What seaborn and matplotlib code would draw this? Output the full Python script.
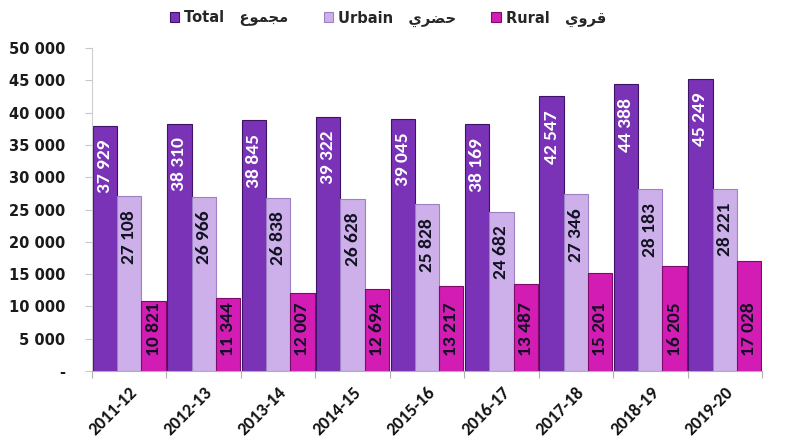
import matplotlib
matplotlib.use("Agg")
import matplotlib.pyplot as plt
import matplotlib.transforms as mtransforms
import seaborn as sns
import pandas as pd
from matplotlib.patches import Patch
from matplotlib.ticker import FuncFormatter, FixedLocator

years = ["2011-12", "2012-13", "2013-14", "2014-15", "2015-16",
         "2016-17", "2017-18", "2018-19", "2019-20"]
total = [37929, 38310, 38845, 39322, 39045, 38169, 42547, 44388, 45249]
urbain = [27108, 26966, 26838, 26628, 25828, 24682, 27346, 28183, 28221]
rural = [10821, 11344, 12007, 12694, 13217, 13487, 15201, 16205, 17028]
series = ["Total", "Urbain", "Rural"]
# Arabic labels (presentation forms, visual order for correct display)
ar_total = "\ufec9\ufeee\ufee4\ufea0\ufee3"   # مجموع
ar_urbain = "\ufef1\ufeae\ufec0\ufea3"        # حضري
ar_rural = "\ufef1\ufeed\ufeae\ufed7"         # قروي

colors = {"Total": "#7a32b6", "Urbain": "#cdb0ea", "Rural": "#d21cb4"}
edges = {"Total": "#3c1466", "Urbain": "#9c82c4", "Rural": "#7e0a6a"}
label_colors = {"Total": "white", "Urbain": "#111122", "Rural": "#111122"}

df = pd.DataFrame({
    "year": years * 3,
    "series": ["Total"] * 9 + ["Urbain"] * 9 + ["Rural"] * 9,
    "value": total + urbain + rural,
})

sns.set_style("white")
plt.rcParams["font.family"] = ["DejaVu Sans"]

fig = plt.figure(figsize=(7.87, 4.41), dpi=100)
ax = fig.add_axes([92 / 787, 1 - 371 / 441, 670 / 787, 323 / 441])

sns.barplot(data=df, x="year", y="value", hue="series", hue_order=series,
            palette=colors, width=0.98, gap=0, ax=ax, legend=False,
            saturation=1)

vals = {"Total": total, "Urbain": urbain, "Rural": rural}
for cont, s in zip(ax.containers, series):
    for p, v in zip(cont.patches, vals[s]):
        p.set_edgecolor(edges[s])
        p.set_linewidth(0.8)
        xc = p.get_x() + p.get_width() / 2
        txt = f"{v:,}".replace(",", " ")
        if s == "Rural":
            ax.annotate(txt, (xc, 0), xytext=(0, 11), textcoords="offset points",
                        rotation=90, ha="center", va="bottom",
                        fontsize=14, fontweight="bold", family="Carlito",
                        color=label_colors[s])
        else:
            ax.annotate(txt, (xc, v), xytext=(0, -10), textcoords="offset points",
                        rotation=90, ha="center", va="top",
                        fontsize=14, fontweight="bold", family="Carlito",
                        color=label_colors[s])

ax.set_ylim(0, 50000)
ax.set_xlim(-0.5, len(years) - 0.5)
ax.set_yticks(range(0, 50001, 5000))
ax.yaxis.set_major_formatter(FuncFormatter(
    lambda v, p: "-" if v == 0 else f"{int(v):,}".replace(",", " ")))
ax.tick_params(axis="y", left=True, length=5, width=0.8, color="#c8c8c8",
               pad=14, labelsize=10.5, labelcolor="#1a1a1a")
for t in ax.get_yticklabels():
    t.set_fontweight("bold")

ax.set_xlabel("")
ax.set_ylabel("")
ax.xaxis.set_minor_locator(FixedLocator([i - 0.5 for i in range(len(years) + 1)]))
ax.tick_params(axis="x", which="major", length=0, pad=4)
ax.tick_params(axis="x", which="minor", bottom=True, length=5, width=0.8, color="#b0b0b0")
ax.set_xticks(range(len(years)))
ax.set_xticklabels(years, rotation=45, ha="right", rotation_mode="anchor",
                   fontsize=13, fontweight="bold", family="Carlito", color="#111111")
for lab in ax.get_xticklabels():
    lab.set_transform(lab.get_transform() + mtransforms.ScaledTranslation(
        0 / 100, -8 / 100, fig.dpi_scale_trans))

for sp in ["top", "right"]:
    ax.spines[sp].set_visible(False)
ax.spines["left"].set_color("#cfcfcf")
ax.spines["bottom"].set_color("#b0b0b0")

handles = [Patch(facecolor=colors[s], edgecolor=edges[s], linewidth=0.8) for s in series]
labels = [f"Total   {ar_total}", f"Urbain   {ar_urbain}", f"Rural   {ar_rural}"]
fig.legend(handles, labels, loc="center", bbox_to_anchor=(0.493, 0.958), ncol=3,
           frameon=False, prop={"weight": "bold", "size": 10.5, "family": "DejaVu Sans"},
           handlelength=0.65, handleheight=0.65, handletextpad=0.35, columnspacing=2.4)

fig.savefig("out.png", dpi=100)
